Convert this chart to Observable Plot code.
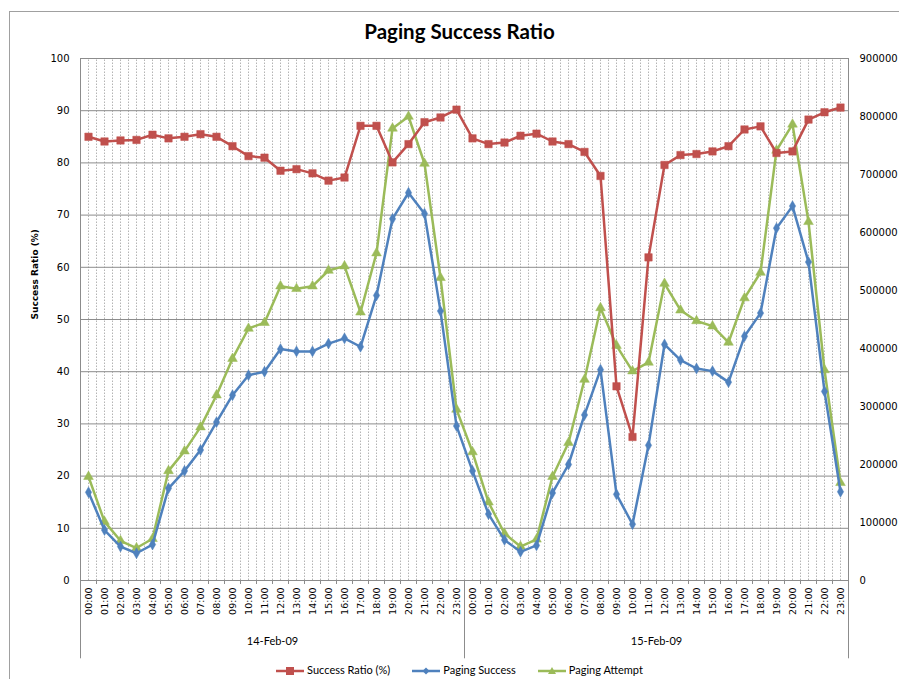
<!DOCTYPE html>
<html>
<head>
<meta charset="utf-8">
<script src="https://cdn.jsdelivr.net/npm/d3@7"></script>
<script src="https://cdn.jsdelivr.net/npm/@observablehq/plot@0.6"></script>
<style>
  body { margin: 0; background: #fff; }
  #wrap { position: relative; width: 899px; height: 679px; overflow: hidden; background: #fff; }
  #border { position: absolute; left: 9px; top: 11px; width: 920px; height: 720px; border-left: 1px solid #a0a0a0; border-top: 1px solid #a0a0a0; }
  #chart { position: absolute; left: 0; top: 0; }
  #title { position: absolute; left: 0; top: 19px; width: 919px; text-align: center; font: bold 20.5px Lato, sans-serif; color: #000; }
  #legend { position: absolute; left: 0; top: 662px; width: 919px; text-align: center; font: 11px Lato, sans-serif; color: #000; white-space: nowrap; }
  #legend span.item { display: inline-block; margin: 0 11px; vertical-align: middle; }
  #legend svg { vertical-align: middle; margin-right: 3px; }
</style>
</head>
<body>
<div id="wrap">
  <div id="border"></div>
  <div id="chart"></div>
  <div id="title">Paging Success Ratio</div>
  <div id="legend"></div>
</div>
<script>
// ---- data ----
const hours = ["00:00","01:00","02:00","03:00","04:00","05:00","06:00","07:00","08:00","09:00","10:00","11:00",
               "12:00","13:00","14:00","15:00","16:00","17:00","18:00","19:00","20:00","21:00","22:00","23:00"];
const dates = ["14-Feb-09", "15-Feb-09"];

const successRatio = [85.0,84.1,84.3,84.4,85.4,84.7,85.0,85.5,85.0,83.2,81.3,81.0,78.5,78.8,78.0,76.6,77.2,87.1,87.1,80.1,83.6,87.8,88.7,90.2,
                      84.7,83.6,83.9,85.2,85.6,84.1,83.6,82.1,77.5,37.2,27.5,61.9,79.6,81.5,81.7,82.2,83.2,86.4,87.0,81.9,82.2,88.3,89.7,90.6];

const pagingSuccess = [152000,87000,58500,47000,62000,159000,189000,225000,273000,319500,354000,360000,
                       399000,395000,395000,408500,417500,403000,491500,623500,668500,632500,464500,266500,
                       189000,114500,70000,49500,60500,151000,200000,285500,363500,148500,97000,233000,
                       407000,380000,365500,361000,342000,421000,461000,607500,645500,549000,326000,153000];

const pagingAttempt = [179000,101500,68500,56000,72000,189000,223000,264500,319500,382500,434500,444500,
                       507500,503000,507500,534500,542000,462500,564500,779500,800000,719000,522000,295000,
                       221500,135000,81000,58500,71000,179000,237500,346500,470000,405000,361000,376000,
                       512000,466000,447500,438500,410500,487000,531000,741500,786500,618500,363000,168500];

const leftTicks = [0,10,20,30,40,50,60,70,80,90,100];
const rightTicks = [0,100000,200000,300000,400000,500000,600000,700000,800000,900000];

const seriesNames = ["Success Ratio (%)", "Paging Success", "Paging Attempt"];
const colors = { red: "#C0504D", blue: "#4F81BD", green: "#9BBB59" };

// ---- build ----
const factor = rightTicks[rightTicks.length - 1] / leftTicks[leftTicks.length - 1]; // 9000
const n = successRatio.length;
const idx = d3.range(n);
const rows = idx.map(i => ({
  i,
  ratio: successRatio[i],
  succ: pagingSuccess[i] / factor,
  att: pagingAttempt[i] / factor
}));
const boundaries = d3.range(-0.5, n, 1);           // category edges
const minorGrid = d3.range(0, n * 2 - 1).map(k => k / 2); // dotted verticals at centers and edges
const dayEdges = [-0.5, 23.5, 47.5];

const gridColor = "#8c8c8c";

const chart = Plot.plot({
  width: 899,
  height: 679,
  marginLeft: 80,
  marginRight: 51,
  marginTop: 58,
  marginBottom: 99,
  style: { background: "transparent", fontFamily: "DejaVu Sans, sans-serif", fontSize: "10px", color: "#000" },
  x: { type: "linear", domain: [-0.5, n - 0.5], axis: null },
  y: { domain: [0, 100], axis: null },
  marks: [
    // dotted vertical minor grid
    Plot.ruleX(minorGrid.filter(v => v > -0.5 && v < n - 0.5), { y1: 0, y2: 100, stroke: "#b4b4b4", strokeWidth: 1, strokeDasharray: "1.5,1.5" }),
    // horizontal major grid
    Plot.ruleY(leftTicks, { stroke: gridColor, strokeWidth: 1 }),
    // axis lines
    Plot.ruleX([-0.5, n - 0.5], { y1: 0, y2: 100, stroke: gridColor, strokeWidth: 1 }),
    // day separators extending below axis
    Plot.ruleX(dayEdges, { y1: 0, y2: -15, stroke: gridColor, strokeWidth: 1 }),
    // x tick marks
    Plot.axisX({ ticks: boundaries, tickSize: 4, tickFormat: () => "", label: null, stroke: gridColor }),
    // left axis labels
    Plot.axisY({ ticks: leftTicks, anchor: "left", tickSize: 0, tickPadding: 11, label: null, fontSize: 10 }),
    // right axis labels
    Plot.axisY({ ticks: rightTicks.map(t => t / factor), anchor: "right", tickSize: 0, tickPadding: 11,
                 tickFormat: d => String(Math.round(d * factor)), label: null, fontSize: 10 }),
    // y axis title
    Plot.text([seriesNames[0]], { frameAnchor: "left", dx: -45, rotate: -90, fontWeight: "bold", fontSize: 9, text: d => d }),
    // hour labels
    Plot.text(idx, { x: i => i, y: 0, text: i => hours[i % 24], rotate: -90, textAnchor: "end", dy: 7, fontSize: 9.5 }),
    // date labels
    Plot.text(dates, { x: (d, j) => j * 24 + 11.5, y: 0, dy: 61, text: d => d, fontSize: 11, fontFamily: "Lato, sans-serif" }),
    // series: Paging Attempt
    Plot.line(rows, { x: "i", y: "att", stroke: colors.green, strokeWidth: 2.5 }),
    Plot.dot(rows, { x: "i", y: "att", symbol: "triangle", r: 3.6, fill: colors.green, stroke: colors.green, strokeWidth: 0.5 }),
    // series: Paging Success
    Plot.line(rows, { x: "i", y: "succ", stroke: colors.blue, strokeWidth: 2.5 }),
    Plot.dot(rows, { x: "i", y: "succ", symbol: "diamond", r: 3.3, fill: colors.blue, stroke: colors.blue, strokeWidth: 0.5 }),
    // series: Success Ratio
    Plot.line(rows, { x: "i", y: "ratio", stroke: colors.red, strokeWidth: 2.5 }),
    Plot.dot(rows, { x: "i", y: "ratio", symbol: "square", r: 4.2, fill: colors.red, stroke: colors.red, strokeWidth: 0.5 })
  ]
});
document.getElementById("chart").appendChild(chart);

// legend
const legendSymbols = [
  { name: seriesNames[0], color: colors.red, shape: "square" },
  { name: seriesNames[1], color: colors.blue, shape: "diamond" },
  { name: seriesNames[2], color: colors.green, shape: "triangle" }
];
const legend = document.getElementById("legend");
legendSymbols.forEach(s => {
  let marker;
  if (s.shape === "square") marker = `<rect x="10" y="3" width="8" height="8" fill="${s.color}"/>`;
  else if (s.shape === "diamond") marker = `<path d="M14 3.5 L17.5 7 L14 10.5 L10.5 7 Z" fill="${s.color}"/>`;
  else marker = `<path d="M14 3 L18 10 L10 10 Z" fill="${s.color}"/>`;
  legend.insertAdjacentHTML("beforeend",
    `<span class="item"><svg width="28" height="14"><line x1="0" y1="7" x2="28" y2="7" stroke="${s.color}" stroke-width="2.5"/>${marker}</svg>${s.name}</span>`);
});
</script>
</body>
</html>
